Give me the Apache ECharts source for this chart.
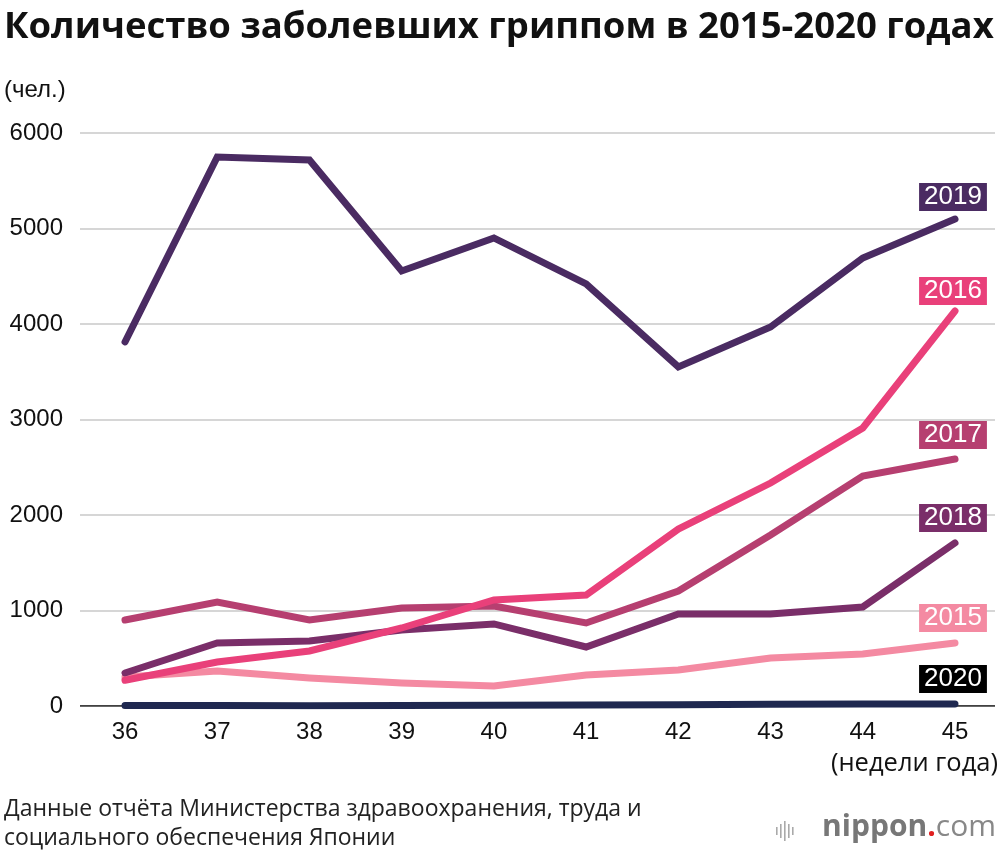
<!DOCTYPE html>
<html><head><meta charset="utf-8">
<script src="https://cdn.jsdelivr.net/npm/echarts@6/dist/echarts.min.js"></script>
<style>html,body{margin:0;padding:0;background:#fff}#c{width:1000px;height:856px}</style>
</head><body><div id="c"></div>
<script>
const weeks = ['36','37','38','39','40','41','42','43','44','45'];
const yTicks = [0,1000,2000,3000,4000,5000,6000];
const y2015 = [304,366,293,241,209,325,377,503,545,660];
const y2016 = [270,461,576,817,1110,1162,1853,2335,2911,4136];
const y2017 = [900,1089,900,1026,1047,869,1204,1791,2408,2586];
const y2018 = [346,660,681,796,859,618,963,963,1037,1707];
const y2019 = [3812,5749,5717,4555,4901,4419,3550,3969,4691,5099];
const y2020 = [4,4,3,5,7,10,14,18,22,20];
const years = ['2015','2016','2017','2018','2019','2020'];

const colors = {'2015':'#f48aa2','2016':'#e9407a','2017':'#b63f70','2018':'#7a2e69','2019':'#4a2b62','2020':'#1f2850'};
const boxColors = {'2015':'#f48aa2','2016':'#e9407a','2017':'#b63f70','2018':'#7a2e69','2019':'#4a2b62','2020':'#000000'};
const dataByYear = {'2015':y2015,'2016':y2016,'2017':y2017,'2018':y2018,'2019':y2019,'2020':y2020};
const boxY = {'2019':197,'2016':291,'2017':435,'2018':518,'2015':618,'2020':679};

const FONT = 'Liberation Sans, Arial, sans-serif';
const OS = 'Open Sans, Noto Sans, sans-serif';
const chart = echarts.init(document.getElementById('c'));

const order = ['2020','2015','2018','2017','2016','2019'];
const series = order.map(y => ({
  name: y, type:'line', xAxisIndex:1, yAxisIndex:1,
  data: dataByYear[y], symbol:'none',
  lineStyle:{color:colors[y], width:7, cap:'round', join:'miter'},
  z: 3
}));

const graphics = [
  {type:'text', left:4, top:9, style:{text:'Количество заболевших гриппом в 2015-2020 годах', font:'bold 36.5px '+OS, fill:'#111'}},
  {type:'text', left:4, top:78, style:{text:'(чел.)', font:'24px '+FONT, fill:'#111'}},
  {type:'text', right:2, top:751, style:{text:'(недели года)', font:'25.5px '+OS, fill:'#111'}},
  {type:'text', left:4, top:795, style:{text:'Данные отчёта Министерства здравоохранения, труда и\nсоциального обеспечения Японии', font:'23px '+OS, fill:'#222', lineHeight:29}},
  {type:'text', right:4, top:812, style:{rich:{a:{font:'bold 30px '+OS, fill:'#777'},d:{font:'bold 30px '+OS, fill:'#e02020'},c:{font:'30px '+OS, fill:'#888'}}, text:'{a|nippon}{d|.}{c|com}'}}
];
[[776,8],[780,14],[784,20],[788,14],[792,8]].forEach(([x,h])=>{
  graphics.push({type:'rect', shape:{x:x, y:831-h/2, width:1.6, height:h}, style:{fill:'#aaa'}});
});
years.forEach(y=>{
  graphics.push({type:'text', x:953, y:boxY[y], style:{text:y, font:'26px '+FONT, fill:'#fff', align:'center', verticalAlign:'middle', backgroundColor:boxColors[y], padding:[2,5,0,5]}, z:10});
});

chart.setOption({
  animation:false,
  graphic: graphics,
  grid:[
    {left:80, right:5, top:133, bottom:150},
    {left:125, right:45, top:133, bottom:150}
  ],
  xAxis:[
    {gridIndex:0, type:'value', min:0, max:1, show:false},
    {gridIndex:1, type:'category', data:weeks, boundaryGap:false,
     axisLine:{show:false}, axisTick:{show:false},
     axisLabel:{color:'#111', fontSize:24, fontFamily:FONT, margin:14}}
  ],
  yAxis:[
    {gridIndex:0, type:'value', min:0, max:6000, interval:1000,
     axisLine:{show:false}, axisTick:{show:false},
     axisLabel:{color:'#111', fontSize:24, fontFamily:FONT, margin:17, formatter: v => String(v)},
     splitLine:{lineStyle:{color:'#c8c8c8', width:1.5}}},
    {gridIndex:1, type:'value', min:0, max:6000, interval:1000, show:false, splitLine:{show:false}}
  ],
  series: series.concat([{
    type:'line', xAxisIndex:0, yAxisIndex:0, data:[[0,0],[1,0]], symbol:'none',
    lineStyle:{color:'#111', width:1.5}, z:2, silent:true
  }])
});
</script></body></html>
